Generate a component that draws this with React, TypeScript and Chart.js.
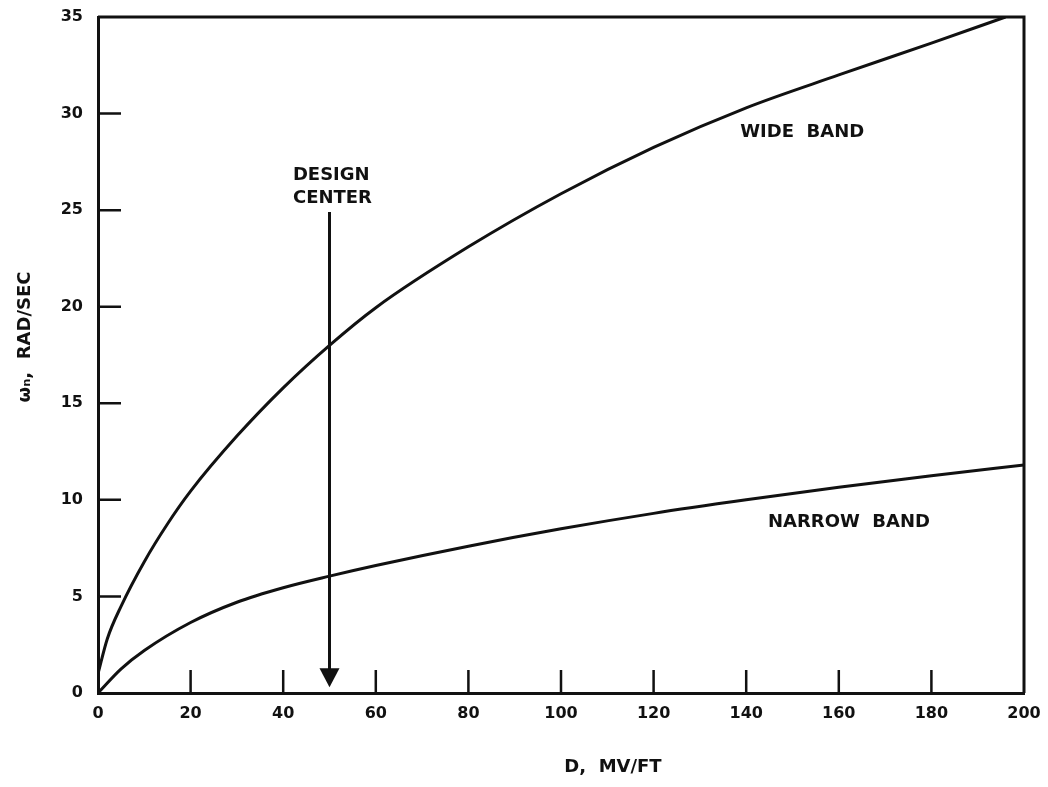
import { useEffect, useRef } from "react";
import { Chart, registerables } from "chart.js";

Chart.register(...registerables);

// Wide band curve (D in MV/FT, omega_n in RAD/SEC)
const wideD = [0, 2, 5, 10, 15, 20, 30, 40, 50, 60, 80, 100, 120, 140, 160, 180, 196];
const wideOmega = [1.0, 2.8, 4.5, 6.8, 8.75, 10.45, 13.3, 15.8, 18.0, 19.95, 23.1, 25.85, 28.25, 30.3, 32.0, 33.65, 35.0];

// Narrow band curve
const narrowD = [0, 5, 10, 20, 30, 40, 50, 60, 80, 100, 120, 140, 160, 180, 200];
const narrowOmega = [0, 1.25, 2.2, 3.65, 4.7, 5.45, 6.05, 6.6, 7.6, 8.5, 9.3, 10.0, 10.65, 11.25, 11.8];

// Axis ticks
const xTicks = [0, 20, 40, 60, 80, 100, 120, 140, 160, 180, 200];
const yTicks = [0, 5, 10, 15, 20, 25, 30, 35];

// Design center marker
const designCenterD = 50;
const designArrowTop = 24.9;
const designArrowTip = 0.3;

// Annotation labels: [text, D, omega]
const labelDesign1 = ["DESIGN", 42.1, 26.8] as const;
const labelDesign2 = ["CENTER", 42.1, 25.6] as const;
const labelWide = ["WIDE  BAND", 138.7, 29.05] as const;
const labelNarrow = ["NARROW  BAND", 144.7, 8.86] as const;

const xTitle = "D,  MV/FT";
const yTitle = "ωₙ,  RAD/SEC";

const INK = "#111111";
const FONT = "'DejaVu Sans', sans-serif";

export default function App() {
  const ref = useRef<HTMLCanvasElement | null>(null);

  useEffect(() => {
    if (!ref.current) return;

    const decor = {
      id: "decor",
      afterDraw(chart: any) {
        const ctx = chart.ctx as CanvasRenderingContext2D;
        const { left, right, top, bottom } = chart.chartArea;
        const xs = chart.scales.x;
        const ys = chart.scales.y;
        ctx.save();
        ctx.strokeStyle = INK;
        ctx.fillStyle = INK;

        // top & right frame
        ctx.lineWidth = 3;
        ctx.beginPath();
        ctx.moveTo(left, top);
        ctx.lineTo(right, top);
        ctx.lineTo(right, bottom);
        ctx.stroke();

        // inner tick marks
        ctx.lineWidth = 2.5;
        ctx.beginPath();
        yTicks.forEach((v) => {
          if (v === yTicks[0] || v === yTicks[yTicks.length - 1]) return;
          const py = ys.getPixelForValue(v);
          ctx.moveTo(left, py);
          ctx.lineTo(left + 23, py);
        });
        xTicks.forEach((v) => {
          if (v === xTicks[0] || v === xTicks[xTicks.length - 1]) return;
          const px = xs.getPixelForValue(v);
          ctx.moveTo(px, bottom);
          ctx.lineTo(px, bottom - 23);
        });
        ctx.stroke();

        // design center arrow
        const ax = xs.getPixelForValue(designCenterD);
        const aTop = ys.getPixelForValue(designArrowTop);
        const aTip = ys.getPixelForValue(designArrowTip);
        ctx.lineWidth = 3;
        ctx.beginPath();
        ctx.moveTo(ax, aTop);
        ctx.lineTo(ax, aTip - 14);
        ctx.stroke();
        ctx.beginPath();
        ctx.moveTo(ax - 10, aTip - 19);
        ctx.lineTo(ax + 10, aTip - 19);
        ctx.lineTo(ax, aTip);
        ctx.closePath();
        ctx.fill();

        // annotation text
        ctx.font = `bold 18px ${FONT}`;
        ctx.textAlign = "left";
        ctx.textBaseline = "middle";
        [labelDesign1, labelDesign2, labelWide, labelNarrow].forEach(([t, d, w]) => {
          ctx.fillText(t, xs.getPixelForValue(d), ys.getPixelForValue(w));
        });

        // axis titles
        ctx.textAlign = "center";
        ctx.fillText(xTitle, 613, 767);
        ctx.save();
        ctx.translate(25, 337);
        ctx.rotate(-Math.PI / 2);
        ctx.fillText(yTitle, 0, 0);
        ctx.restore();

        ctx.restore();
      },
    };

    const chart = new Chart(ref.current, {
      type: "line",
      data: {
        datasets: [
          {
            label: "WIDE BAND",
            data: wideD.map((d, i) => ({ x: d, y: wideOmega[i] })),
            borderColor: INK,
            borderWidth: 3,
            pointRadius: 0,
            cubicInterpolationMode: "monotone",
            fill: false,
          },
          {
            label: "NARROW BAND",
            data: narrowD.map((d, i) => ({ x: d, y: narrowOmega[i] })),
            borderColor: INK,
            borderWidth: 3,
            pointRadius: 0,
            cubicInterpolationMode: "monotone",
            fill: false,
          },
        ],
      },
      options: {
        animation: false,
        responsive: false,
        layout: { padding: { left: 0, right: 24, top: 17, bottom: 0 } },
        plugins: { legend: { display: false }, tooltip: { enabled: false } },
        scales: {
          x: {
            type: "linear",
            min: xTicks[0],
            max: xTicks[xTicks.length - 1],
            afterFit: (s: any) => {
              s.height = 94;
              s.paddingLeft = 0;
              s.paddingRight = 0;
            },
            afterBuildTicks: (s: any) => {
              s.ticks = xTicks.map((v) => ({ value: v }));
            },
            grid: { display: false, drawTicks: false },
            border: { display: true, color: INK, width: 3 },
            ticks: {
              padding: 11,
              color: INK,
              font: { family: FONT, size: 16, weight: "bold" },
              maxRotation: 0,
            },
          },
          y: {
            type: "linear",
            min: yTicks[0],
            max: yTicks[yTicks.length - 1],
            afterFit: (s: any) => {
              s.width = 98;
              s.paddingTop = 0;
              s.paddingBottom = 0;
            },
            afterBuildTicks: (s: any) => {
              s.ticks = yTicks.map((v) => ({ value: v }));
            },
            grid: { display: false, drawTicks: false },
            border: { display: true, color: INK, width: 3 },
            ticks: {
              padding: 15,
              color: INK,
              font: { family: FONT, size: 16, weight: "bold" },
            },
          },
        },
      },
      plugins: [decor],
    } as any);

    return () => chart.destroy();
  }, []);

  return (
    <div style={{ position: "absolute", left: 0, top: 0, width: 1048, height: 787, background: "#fff" }}>
      <canvas ref={ref} width={1048} height={787} style={{ display: "block" }} />
    </div>
  );
}
